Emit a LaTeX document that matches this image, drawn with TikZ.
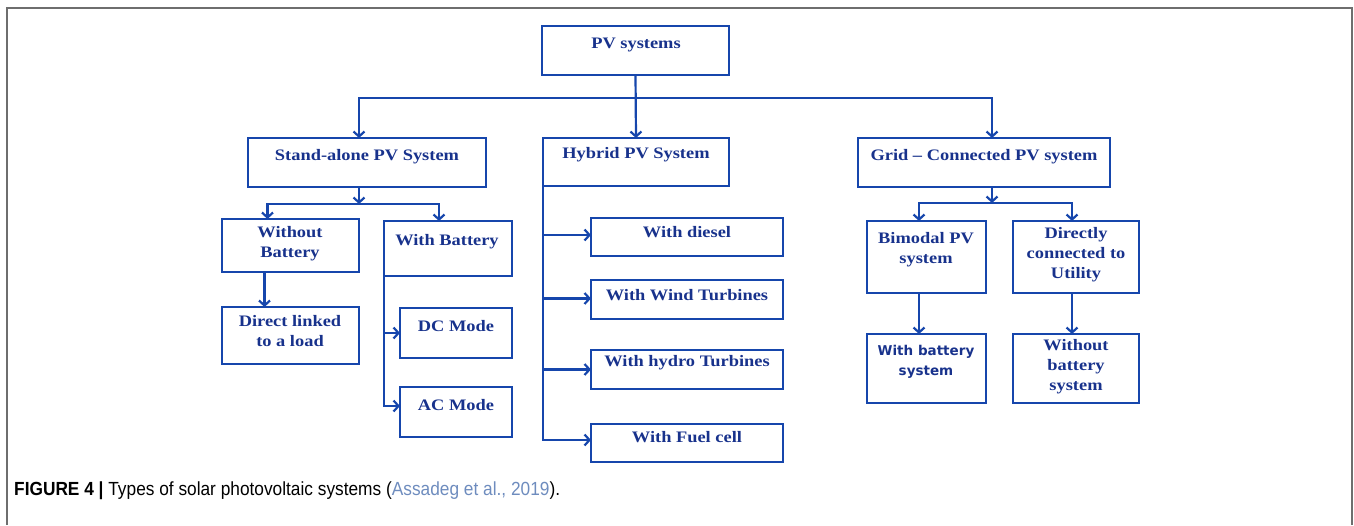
\documentclass[tikz,border=0pt]{standalone}
\usepackage{fontspec}
\setmainfont{Liberation Serif}
\newfontfamily\boxfont[FakeStretch=1.15]{Liberation Serif}
\newfontfamily\boxsans{DejaVu Sans}
\newfontfamily\capfont[FakeStretch=0.91]{Liberation Sans}
\usetikzlibrary{arrows.meta}
\definecolor{boxblue}{RGB}{22,70,172}
\definecolor{txtblue}{RGB}{24,50,140}
\definecolor{framegray}{RGB}{110,110,110}
\definecolor{citeblue}{RGB}{110,140,190}
\newcommand{\bx}[5]{\node[box, minimum width={(#4-#2)*1pt}, minimum height={(#5-#3)*1pt}] (#1) at (#2,#3) {};}
\begin{document}
\begin{tikzpicture}[x=1pt,y=-1pt,
  box/.style={draw=boxblue, line width=2.2pt, anchor=north west, inner sep=0pt, outer sep=0pt},
  lbl/.style={text=txtblue, font=\boxfont\bfseries\fontsize{16}{20}\selectfont, align=center, inner sep=0pt},
  lbls/.style={text=txtblue, font=\boxsans\bfseries\fontsize{13.5}{20}\selectfont, align=center, inner sep=0pt},
  conn/.style={draw=boxblue, line width=2.2pt},
  arr/.style={conn, -{Straight Barb[length=5pt,width=11pt]}}]
\useasboundingbox (0,0) rectangle (1354,525);
\draw[framegray, line width=1.5pt] (7,525) -- (7,8) -- (1352,8) -- (1352,525);

% level 0/1
\bx{pv}{542}{26}{729}{75}
\node[lbl] (tpv) at (636,45) {PV systems};
\bx{sa}{248}{138}{486}{187}
\node[lbl] (tsa) at (367,157) {Stand-alone PV System};
\bx{hy}{543}{138}{729}{186}
\node[lbl] (thy) at (636,155) {Hybrid PV System};
\bx{gr}{858}{138}{1110}{187}
\node[lbl] (tgr) at (984,157) {Grid – Connected PV system};

\coordinate (bus1) at (636,98);
\draw[arr] (pv.south) -- (hy.north);
\draw[arr] (bus1) -| ([xshift=-8pt]sa.north);
\draw[arr] (bus1) -| ([xshift=8pt]gr.north);

% stand-alone branch
\bx{wob}{222}{219}{359}{272}
\node[lbl] (twob) at (290,244) {Without\\Battery};
\bx{dl}{222}{307}{359}{364}
\node[lbl] (tdl) at (290,331) {Direct linked\\to a load};
\bx{wb}{384}{221}{512}{276}
\node[lbl] (twb) at (447,242) {With Battery};
\bx{dc}{400}{308}{512}{358}
\node[lbl] (tdc) at (456,326) {DC Mode};
\bx{ac}{400}{387}{512}{437}
\node[lbl] (tac) at (456,405) {AC Mode};

\coordinate (bus2) at (359,204);
\draw[arr] ([xshift=-8pt]sa.south) -- (bus2);
\draw[arr] (bus2) -| ([xshift=-23pt]wob.north);
\draw[arr] (bus2) -| ([xshift=-9pt]wb.north);
\draw[arr] ([xshift=-26pt]wob.south) -- ([xshift=-26pt]dl.north);
\draw[arr] (wb.south west) |- (dc.west);
\draw[arr] (wb.south west) |- ([yshift=6pt]ac.west);

% hybrid branch
\bx{d1}{591}{218}{783}{256}
\node[lbl] (td1) at (687,232) {With diesel};
\bx{d2}{591}{280}{783}{319}
\node[lbl] (td2) at (687,295) {With Wind Turbines};
\bx{d3}{591}{350}{783}{389}
\node[lbl] (td3) at (687,363) {With hydro Turbines};
\bx{d4}{591}{424}{783}{462}
\node[lbl] (td4) at (687,437) {With Fuel cell};
\draw[arr] (hy.south west) |- ([yshift=2pt]d1.west);
\draw[arr] (hy.south west) |- ([yshift=1pt]d2.west);
\draw[arr] (hy.south west) |- (d3.west);
\draw[arr] (hy.south west) |- ([yshift=3pt]d4.west);

% grid branch
\bx{bm}{867}{221}{986}{293}
\node[lbl] (tbm) at (926,250) {Bimodal PV\\system};
\bx{du}{1013}{221}{1139}{293}
\node[lbl] (tdu) at (1076,255) {Directly\\connected to\\Utility};
\bx{wbs}{867}{334}{986}{403}
\node[lbls] (twbs) at (926,362) {With battery\\system};
\bx{wobs}{1013}{334}{1139}{403}
\node[lbl] (twobs) at (1076,367) {Without\\battery\\system};

\coordinate (bus3) at (992,203);
\draw[arr] ([xshift=8pt]gr.south) -- (bus3);
\draw[arr] (bus3) -| ([xshift=-7.5pt]bm.north);
\draw[arr] (bus3) -| ([xshift=-4pt]du.north);
\draw[arr] ([xshift=-7.5pt]bm.south) -- ([xshift=-7.5pt]wbs.north);
\draw[arr] ([xshift=-4pt]du.south) -- ([xshift=-4pt]wobs.north);

% caption
\node[anchor=west, inner sep=0pt, font=\capfont\fontsize{19}{22}\selectfont] (cap) at (14,491)
  {\textbf{FIGURE 4 |} Types of solar photovoltaic systems (\textcolor{citeblue}{Assadeg et al., 2019}).};
\end{tikzpicture}
\end{document}
